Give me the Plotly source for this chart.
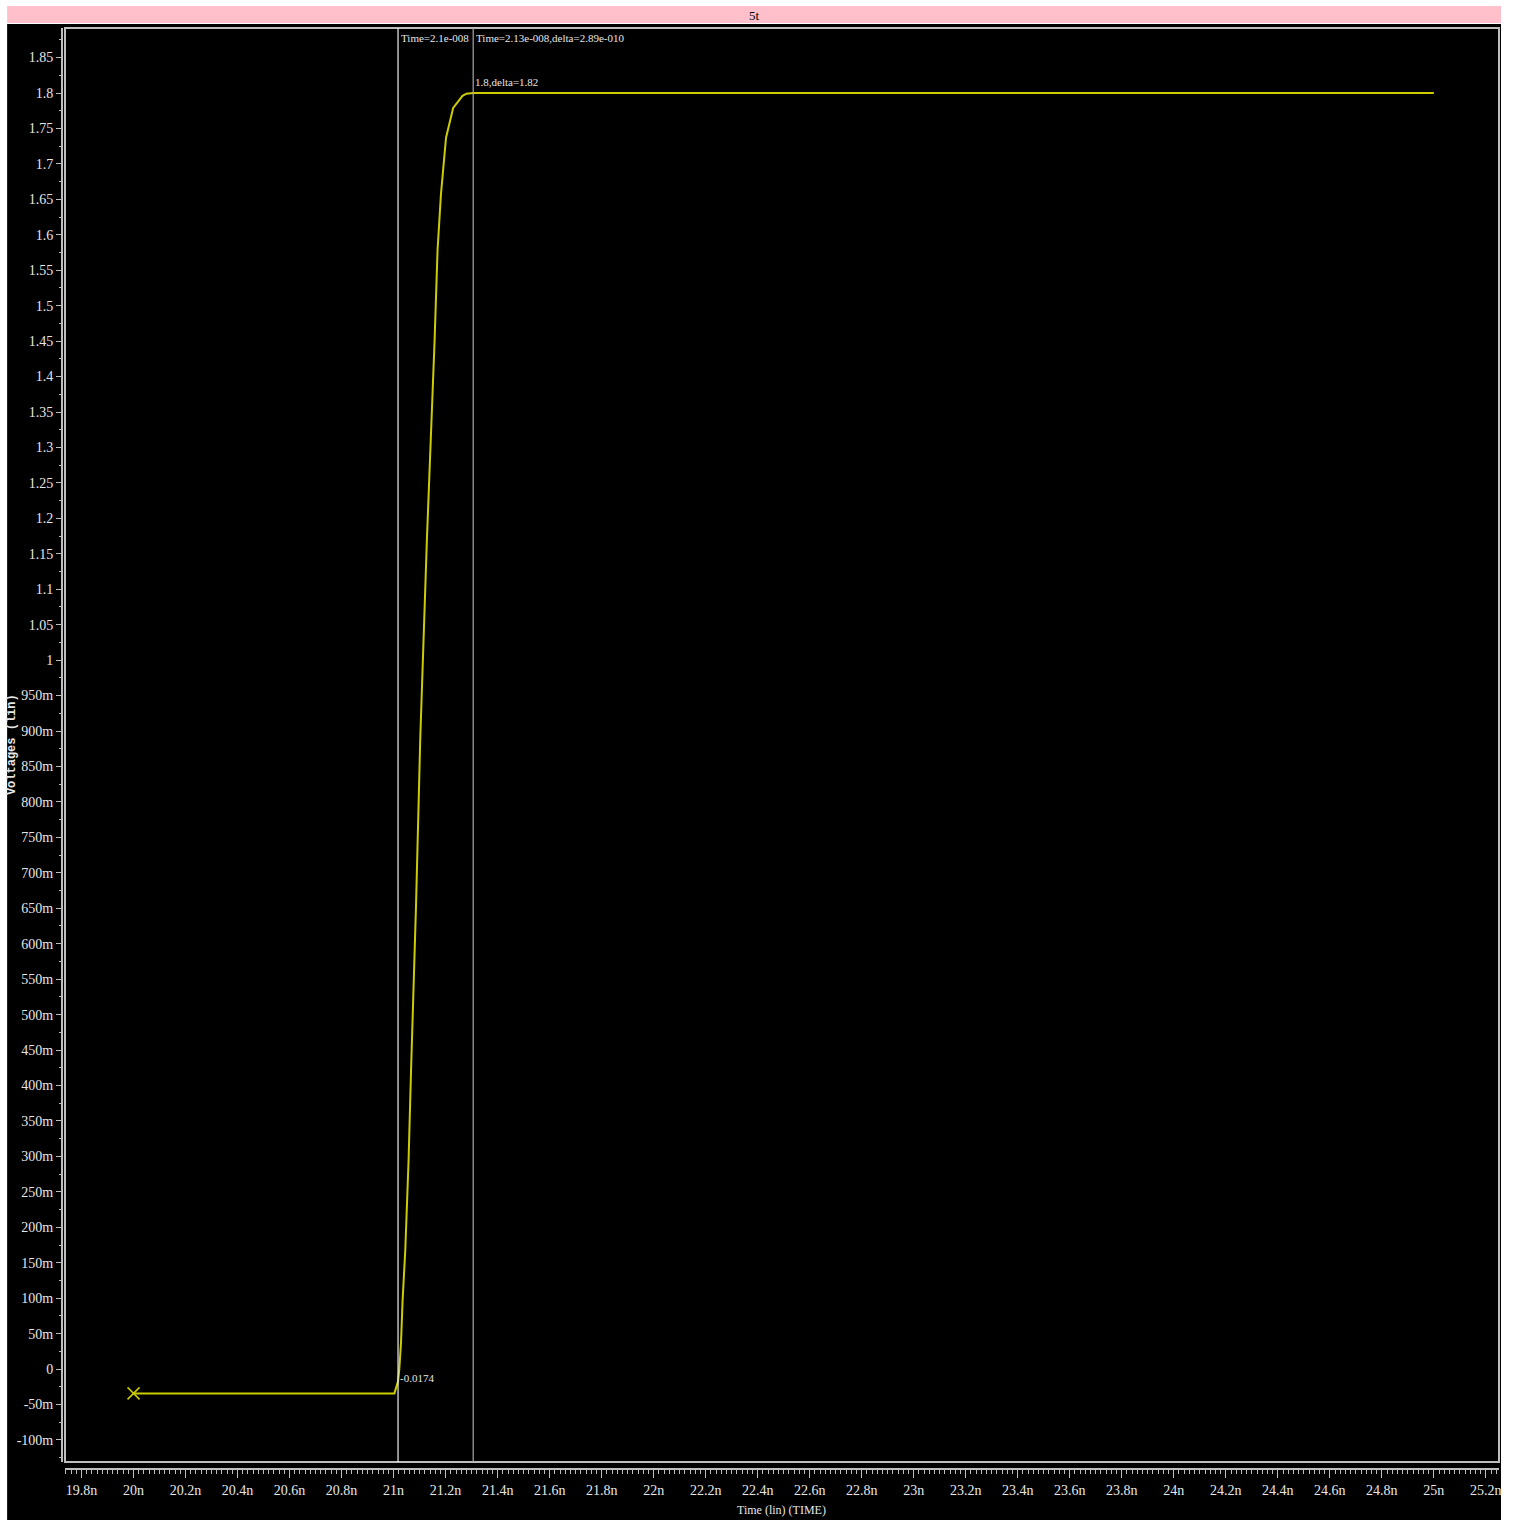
import plotly.graph_objects as go

# ---- waveform data (time in ns, voltage in V) ----
time_ns = [20.0, 21.003, 21.017, 21.0219, 21.0284, 21.0346, 21.0449, 21.0576,
           21.0668, 21.086, 21.1024, 21.128, 21.1577, 21.163, 21.169, 21.182,
           21.2015, 21.229, 21.265, 21.280, 21.306, 25.0]
volts = [-0.0343, -0.0343, -0.0174, 0.0, 0.037, 0.097, 0.168, 0.295,
         0.418, 0.652, 0.888, 1.170, 1.452, 1.518, 1.579, 1.657,
         1.737, 1.779, 1.796, 1.799, 1.8, 1.8]

# cursor positions (ns) and their readouts
cursor1_ns = 21.017
cursor2_ns = 21.306
cursor1_value = -0.0174
cursor2_value = 1.8

# ---- axis ticks ----
y_tick_vals = [-0.10, -0.05, 0.0, 0.05, 0.10, 0.15, 0.20, 0.25, 0.30, 0.35, 0.40,
               0.45, 0.50, 0.55, 0.60, 0.65, 0.70, 0.75, 0.80, 0.85, 0.90, 0.95,
               1.00, 1.05, 1.10, 1.15, 1.20, 1.25, 1.30, 1.35, 1.40, 1.45, 1.50,
               1.55, 1.60, 1.65, 1.70, 1.75, 1.80, 1.85]
y_tick_text = ["-100m", "-50m", "0", "50m", "100m", "150m", "200m", "250m", "300m",
               "350m", "400m", "450m", "500m", "550m", "600m", "650m", "700m",
               "750m", "800m", "850m", "900m", "950m", "1", "1.05", "1.1", "1.15",
               "1.2", "1.25", "1.3", "1.35", "1.4", "1.45", "1.5", "1.55", "1.6",
               "1.65", "1.7", "1.75", "1.8", "1.85"]
x_tick_vals = [19.8, 20.0, 20.2, 20.4, 20.6, 20.8, 21.0, 21.2, 21.4, 21.6, 21.8,
               22.0, 22.2, 22.4, 22.6, 22.8, 23.0, 23.2, 23.4, 23.6, 23.8, 24.0,
               24.2, 24.4, 24.6, 24.8, 25.0, 25.2]
x_tick_text = ["19.8n", "20n", "20.2n", "20.4n", "20.6n", "20.8n", "21n", "21.2n",
               "21.4n", "21.6n", "21.8n", "22n", "22.2n", "22.4n", "22.6n", "22.8n",
               "23n", "23.2n", "23.4n", "23.6n", "23.8n", "24n", "24.2n", "24.4n",
               "24.6n", "24.8n", "25n", "25.2n"]

y_minor = [round(-0.125 + 0.025 * i, 4) for i in range(81)]
x_minor = [round(19.74 + 0.02 * i, 4) for i in range(276)]

FONT = "Liberation Serif, Times New Roman, serif"
TXT = "#E6E6E6"
TRACE = "#CCCC00"
FRAME = "#BEBEBE"

# page geometry (pixels) -> paper fractions
W, H = 1513, 1524
ML, MR, MT, MB = 62, 11, 28, 55
PW, PH = W - ML - MR, H - MT - MB


def px(x):
    return (x - ML) / PW


def py(y):
    return (H - MB - y) / PH


fig = go.Figure()

fig.add_trace(go.Scatter(
    x=time_ns, y=volts, mode="lines",
    line=dict(color=TRACE, width=2), hoverinfo="skip", showlegend=False,
))
fig.add_trace(go.Scatter(
    x=[time_ns[0]], y=[volts[0]], mode="markers",
    marker=dict(symbol="x-thin", size=12, line=dict(color=TRACE, width=1.5)),
    hoverinfo="skip", showlegend=False,
))

shapes = [
    # black panel behind everything
    dict(type="rect", xref="paper", yref="paper", x0=px(7), x1=px(1504),
         y0=py(1520), y1=py(24), fillcolor="black", line=dict(width=0), layer="below"),
    # pink title strip
    dict(type="rect", xref="paper", yref="paper", x0=px(7), x1=px(1504),
         y0=py(23), y1=py(6), fillcolor="#FFC0CB", line=dict(width=0), layer="below"),
    # plot frame
    dict(type="rect", xref="x domain", yref="y domain", x0=0, x1=1, y0=0, y1=1,
         line=dict(color=FRAME, width=2)),
    # cursors
    dict(type="line", xref="x", yref="y domain", x0=cursor1_ns, x1=cursor1_ns,
         y0=0, y1=1, line=dict(color="#F0F0F0", width=1.2)),
    dict(type="line", xref="x", yref="y domain", x0=cursor2_ns, x1=cursor2_ns,
         y0=0, y1=1, line=dict(color="#A8A8A8", width=1.2)),
]


def label(text, x, y, xref="paper", yref="paper", xanchor="center", size=11,
          color=TXT, **kw):
    return dict(text=text, x=x, y=y, xref=xref, yref=yref, xanchor=xanchor,
                yanchor="middle", showarrow=False,
                font=dict(family=FONT, size=size, color=color), **kw)


annotations = [
    label("5t", px(756), py(15), size=13, color="black"),
    label("Time=2.1e-008", cursor1_ns, py(38), xref="x", xanchor="left", xshift=1),
    label("Time=2.13e-008,delta=2.89e-010", cursor2_ns, py(38), xref="x",
          xanchor="left", xshift=1),
    label("1.8,delta=1.82", cursor2_ns, cursor2_value, xref="x", yref="y",
          xanchor="left", yshift=11),
    label("-0.0174", cursor1_ns, cursor1_value, xref="x", yref="y",
          xanchor="left", yshift=3),
    label("Time (lin) (TIME)", px(783), py(1510), size=12),
    dict(text="Voltages (lin)", xref="paper", yref="paper", x=px(12), y=py(745),
         xanchor="center", yanchor="middle", textangle=-90, showarrow=False,
         font=dict(family="Liberation Mono, monospace", size=12, color=TXT,
                   weight="bold")),
]

fig.update_layout(
    width=W, height=H,
    margin=dict(l=ML, r=MR, t=MT, b=MB, pad=0),
    paper_bgcolor="white", plot_bgcolor="black",
    shapes=shapes, annotations=annotations,
    showlegend=False,
    xaxis=dict(
        domain=[3 / PW, 1], range=[19.7364, 25.2505], anchor="free", position=0,
        showgrid=False, zeroline=False, showline=True, linecolor=FRAME, linewidth=2,
        ticks="outside", ticklen=8, tickwidth=1, tickcolor=FRAME,
        tickmode="array", tickvals=x_tick_vals, ticktext=x_tick_text,
        tickfont=dict(family=FONT, size=14, color=TXT),
        minor=dict(tickmode="array", tickvals=x_minor, ticks="outside",
                   ticklen=4, tickwidth=1, tickcolor=FRAME, showgrid=False),
    ),
    yaxis=dict(
        domain=[7 / PH, 1], range=[-0.1311, 1.8917], anchor="free", position=0,
        showgrid=False, zeroline=False, showline=True, linecolor=FRAME, linewidth=2,
        ticks="outside", ticklen=5, tickwidth=1, tickcolor=FRAME,
        tickmode="array", tickvals=y_tick_vals, ticktext=y_tick_text,
        tickfont=dict(family=FONT, size=14, color=TXT),
        minor=dict(tickmode="array", tickvals=y_minor, ticks="outside",
                   ticklen=2, tickwidth=1, tickcolor=FRAME, showgrid=False),
    ),
)

fig.write_html(
    "out.html",
    post_script="document.documentElement.style.overflow='hidden';"
                "document.body.style.margin='0';",
)
